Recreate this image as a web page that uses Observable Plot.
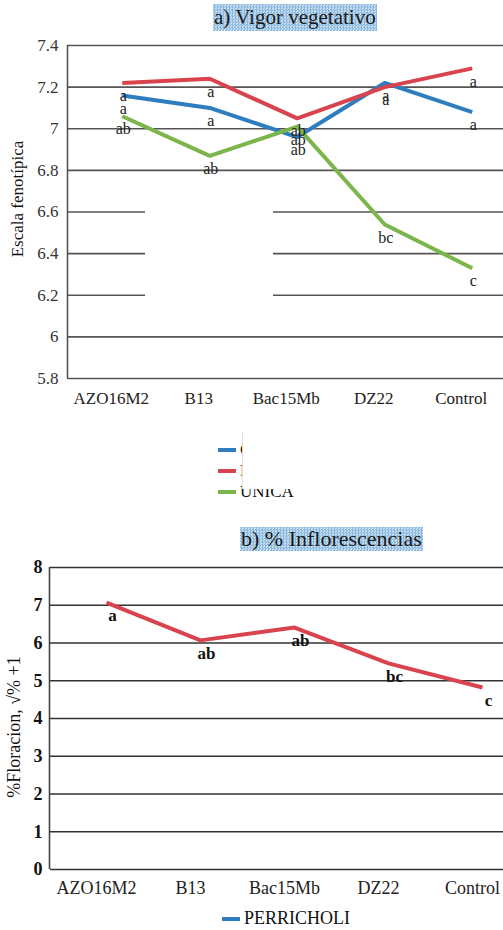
<!DOCTYPE html>
<html><head><meta charset="utf-8">
<script src="https://cdn.jsdelivr.net/npm/d3@7"></script>
<script src="https://cdn.jsdelivr.net/npm/@observablehq/plot@0.6"></script>
<style>
body{margin:0;background:#fff;font-family:"Liberation Serif","Times New Roman",Tinos,"DejaVu Serif",serif;color:#111;}
#wrap{position:relative;width:503px;height:930px;overflow:hidden;background:#fff;}
.title{position:absolute;font-size:21px;white-space:nowrap;color:#1a1a1a;
  background:repeating-conic-gradient(#8cb9df 0% 25%, #c6ddf0 0% 50%) 0 0/3px 3px;padding:0 1px;}
.ylab{position:absolute;white-space:nowrap;transform-origin:center center;transform:translate(-50%,-50%) rotate(-90deg);}
.leg{position:absolute;font-size:17px;white-space:nowrap;display:flex;align-items:center;}
.sw{display:inline-block;width:18px;height:4px;margin-right:4px;}
</style></head><body><div id="wrap"></div>
<script>
// ---- data ----
const categories = ["AZO16M2", "B13", "Bac15Mb", "DZ22", "Control"];
const seriesA = ["CANCHAN", "PERRICHOLI", "UNICA"];
const colorsA = ["#2e7dbf", "#d9434e", "#7cb64a"];
const vigorCanchan    = [7.16, 7.10, 6.96, 7.22, 7.08];
const vigorPerricholi = [7.22, 7.24, 7.05, 7.20, 7.29];
const vigorUnica      = [7.06, 6.87, 7.01, 6.54, 6.33];
const lettersCanchan    = ["a", "a", "ab", "a", "a"];
const lettersPerricholi = ["a", "a", "ab", "a", "a"];
const lettersUnica      = ["ab", "ab", "ab", "bc", "c"];
const ticksA = [5.8, 6, 6.2, 6.4, 6.6, 6.8, 7, 7.2, 7.4];

const floracion = [7.07, 6.07, 6.41, 5.46, 4.82];
const lettersFloracion = ["a", "ab", "ab", "bc", "c"];
const ticksB = [0, 1, 2, 3, 4, 5, 6, 7, 8];
const seriesB = ["PERRICHOLI"];

// ---- tables ----
const FONT = '"Liberation Serif", "Times New Roman", Tinos, "DejaVu Serif", serif';
const idx = categories.map((c, i) => i);
const valsA = [vigorCanchan, vigorPerricholi, vigorUnica];
const letsA = [lettersCanchan, lettersPerricholi, lettersUnica];
const rowsA = seriesA.flatMap((s, k) => idx.map(i => ({series: s, i, value: valsA[k][i], letter: letsA[k][i]})));
const rowsB = idx.map(i => ({i, value: floracion[i], letter: lettersFloracion[i]}));
const xDom = [-0.5, categories.length - 0.5];

const wrap = document.getElementById("wrap");
function place(el, left, top) { el.style.position = "absolute"; el.style.left = left + "px"; el.style.top = top + "px"; wrap.appendChild(el); return el; }

// ---- chart a ----
const plotA = Plot.plot({
  width: 503, height: 415, marginTop: 45, marginBottom: 37, marginLeft: 67, marginRight: 0,
  style: {fontFamily: FONT, background: "transparent", color: "#222"},
  x: {domain: xDom, range: [67, 504.5]},
  y: {domain: [5.8, 7.4]},
  color: {domain: seriesA, range: colorsA},
  marks: [
    Plot.ruleY(ticksA, {stroke: "#555", strokeWidth: 1.6, strokeOpacity: 1}),
    Plot.ruleX([xDom[0]], {stroke: "#555", strokeWidth: 1.6}),
    Plot.axisY({ticks: ticksA, tickSize: 0, tickPadding: 9, fontSize: 17, tickFormat: d => String(d), label: null, color: "#333", fontFamily: FONT}),
    Plot.axisX({ticks: idx, tickSize: 0, tickPadding: 13, fontSize: 17, tickFormat: i => categories[i], label: null, color: "#222", fontFamily: FONT}),
    Plot.line(rowsA, {x: "i", y: "value", z: "series", stroke: "series", strokeWidth: 4, dx: 11, strokeLinecap: "butt"}),
    Plot.text(rowsA, {x: "i", y: "value", text: "letter", dx: 12, dy: 13, fontSize: 16, fill: "#222", fontFamily: FONT})
  ]
});
place(plotA, 0, 0);

// break in gridlines (white patch, as in reference)
const patch = document.createElement("div");
patch.style.cssText = "width:128px;height:125px;background:#fff;";
place(patch, 145, 185);

const tA = document.createElement("div");
tA.className = "title"; tA.textContent = "a) Vigor vegetativo";
tA.style.lineHeight = "27px";
place(tA, 213, 4);

const yA = document.createElement("div");
yA.className = "ylab"; yA.style.fontSize = "17px"; yA.textContent = "Escala fenotípica";
place(yA, 18, 199);

// legend a
seriesA.forEach((s, k) => {
  const it = document.createElement("div");
  it.className = "leg";
  it.innerHTML = `<span class="sw" style="background:${colorsA[k]}"></span><span>${s}</span>`;
  place(it, 218, 440 + k * 21);
});
const cover = document.createElement("div");
cover.style.cssText = "width:140px;height:57px;background:#fff;border-left:1px solid #ddd;";
place(cover, 242, 432);

// ---- chart b ----
const plotB = Plot.plot({
  width: 503, height: 350, marginTop: 12, marginBottom: 36, marginLeft: 50, marginRight: 0,
  style: {fontFamily: FONT, background: "transparent", color: "#111"},
  x: {domain: xDom, range: [49, 519]},
  y: {domain: [0, 8]},
  marks: [
    Plot.ruleY(ticksB, {stroke: "#333", strokeWidth: 1.6}),
    Plot.ruleX([xDom[0]], {stroke: "#444", strokeWidth: 1.6}),
    Plot.axisY({ticks: ticksB, tickSize: 0, tickPadding: 8, fontSize: 18, fontWeight: "bold", tickFormat: d => String(d), label: null, color: "#111", fontFamily: FONT}),
    Plot.axisX({ticks: idx, tickSize: 0, tickPadding: 12, fontSize: 18, tickFormat: i => categories[i], label: null, color: "#222", fontFamily: FONT}),
    Plot.line(rowsB, {x: "i", y: "value", stroke: colorsA[1], strokeWidth: 4, dx: 10, strokeLinecap: "butt"}),
    Plot.text(rowsB, {x: "i", y: "value", text: "letter", dx: 16, dy: 13, fontSize: 17, fontWeight: "bold", fill: "#111", fontFamily: FONT})
  ]
});
place(plotB, 0, 555);

const tB = document.createElement("div");
tB.className = "title"; tB.textContent = "b) % Inflorescencias";
tB.style.lineHeight = "24px"; tB.style.fontSize = "22px";
place(tB, 240, 527);

const yB = document.createElement("div");
yB.className = "ylab"; yB.style.fontSize = "18px"; yB.textContent = "%Floracion, √% +1";
place(yB, 14, 727);

const legB = document.createElement("div");
legB.className = "leg"; legB.style.fontSize = "18px";
legB.innerHTML = `<span class="sw" style="background:${colorsA[0]}"></span><span>${seriesB[0]}</span>`;
place(legB, 222, 908);
</script>
</body></html>
